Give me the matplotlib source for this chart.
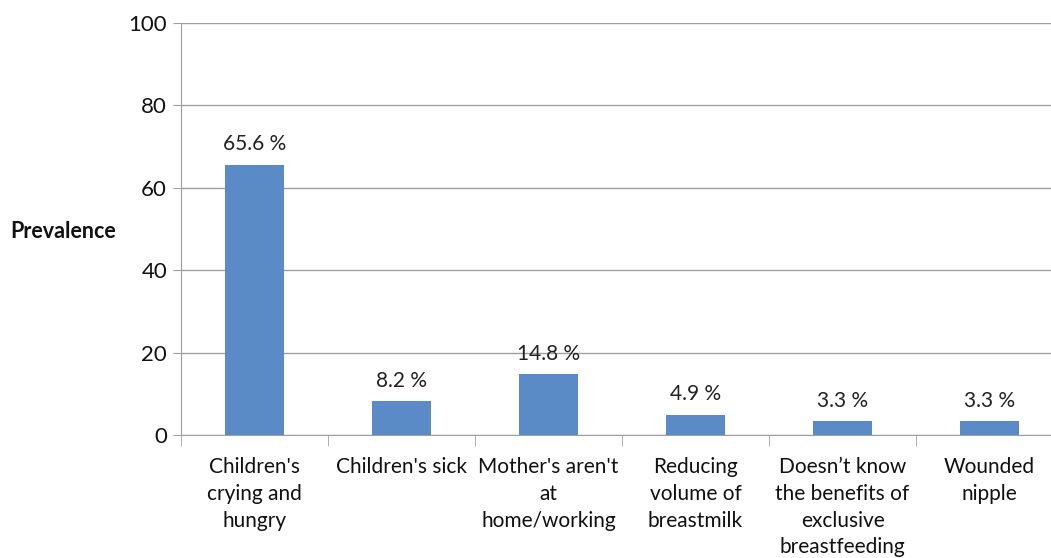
import matplotlib.pyplot as plt
import numpy as np

plt.rcParams['font.family'] = ['Lato', 'DejaVu Sans']

categories = [
    "Children's\ncrying and\nhungry",
    "Children's sick",
    "Mother's aren't\nat\nhome/working",
    "Reducing\nvolume of\nbreastmilk",
    "Doesn\u2019t know\nthe benefits of\nexclusive\nbreastfeeding",
    "Wounded\nnipple",
]
prevalence = [65.6, 8.2, 14.8, 4.9, 3.3, 3.3]
yticks = [0, 20, 40, 60, 80, 100]

fig = plt.figure(figsize=(10.51, 5.58), dpi=100)
# axes runs a bit past the right edge, as in the original
ax = fig.add_axes([181 / 1051, 1 - 435 / 558, 882 / 1051, 412 / 558])

x = np.arange(len(categories))
ax.bar(x, prevalence, width=0.4, color="#5b8bc6", zorder=3)

for xi, v in zip(x, prevalence):
    ax.annotate(f"{v} %", (xi, v), xytext=(0, 7.5), textcoords="offset points",
                ha="center", va="bottom", fontsize=15, color="#222222")

ax.set_xlim(-0.5, len(categories) - 0.5)
ax.set_ylim(0, 100)
ax.set_yticks(yticks)
ax.yaxis.grid(True, color="#a0a0a0", linewidth=1, zorder=0)
ax.tick_params(axis="y", labelsize=16, length=6, color="#a0a0a0", pad=4,
               labelcolor="#111111")

ax.set_xticks(x)
ax.set_xticklabels(categories, fontsize=15, color="#111111", linespacing=1.42)
ax.tick_params(axis="x", length=0, pad=16)
ax.set_xticks(np.arange(len(categories) + 1) - 0.5, minor=True)
ax.tick_params(axis="x", which="minor", length=8, color="#a0a0a0")

for side in ["top", "right"]:
    ax.spines[side].set_visible(False)
for side in ["left", "bottom"]:
    ax.spines[side].set_color("#a0a0a0")

fig.text(10 / 1051, 1 - 231 / 558, "Prevalence", fontsize=15.5, fontweight="bold",
         ha="left", va="center", color="#111111")

fig.savefig("out.png", dpi=100)
